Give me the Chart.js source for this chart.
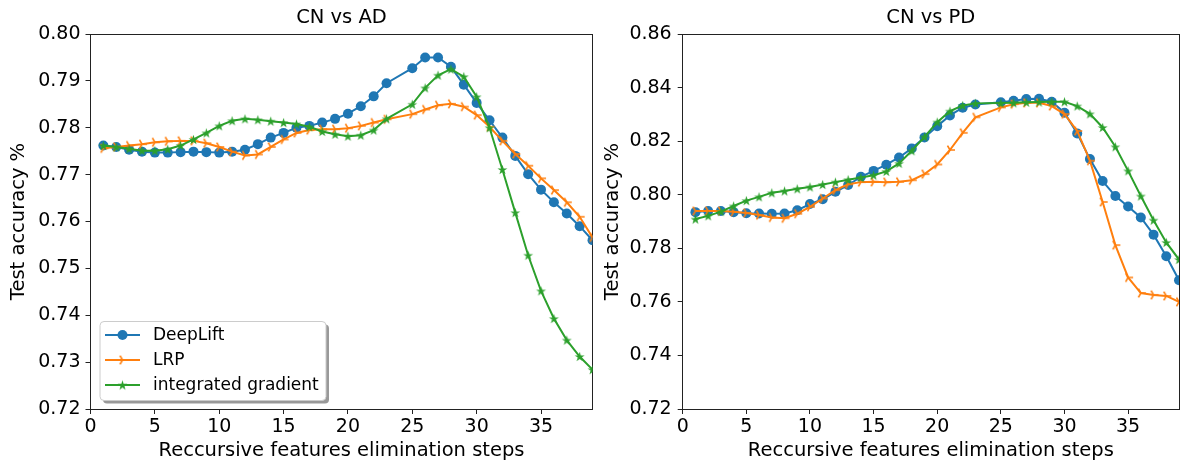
<!DOCTYPE html>
<html><head><meta charset="utf-8">
<script src="https://cdn.jsdelivr.net/npm/chart.js@4"></script>
<style>
html,body{margin:0;padding:0;background:#fff;width:1184px;height:465px;overflow:hidden}
canvas{position:absolute;top:0}
#c1{left:0;width:600px;height:465px}
#c2{left:590px;width:594px;height:465px}
</style></head><body>
<canvas id="c1" width="600" height="465"></canvas>
<canvas id="c2" width="594" height="465"></canvas>
<script>
// ---- data ----
const steps = [1,2,3,4,5,6,7,8,9,10,11,12,13,14,15,16,17,18,19,20,21,22,23,25,26,27,28,29,30,31,32,33,34,35,36,37,38,39];
const seriesNames = ['DeepLift', 'LRP', 'integrated gradient'];
const titles = ['CN vs AD', 'CN vs PD'];
const xAxisTitle = 'Reccursive features elimination steps';
const yAxisTitle = 'Test accuracy %';
const xTicks = [0,5,10,15,20,25,30,35];
const yTicksAD = [0.72,0.73,0.74,0.75,0.76,0.77,0.78,0.79,0.80];
const yTicksPD = [0.72,0.74,0.76,0.78,0.80,0.82,0.84,0.86];

const adDeepLift = [0.7762,0.7759,0.7753,0.7749,0.7747,0.7747,0.7748,0.7749,0.7748,0.7747,0.7749,0.7753,0.7765,0.7779,0.7789,0.7800,0.7804,0.7811,0.7819,0.7830,0.7846,0.7867,0.7895,0.7927,0.7950,0.7950,0.7930,0.7892,0.7853,0.7816,0.7779,0.7740,0.7701,0.7668,0.7641,0.7617,0.7590,0.7560];
const adLRP = [0.7756,0.7759,0.7762,0.7765,0.7769,0.7771,0.7772,0.7772,0.7767,0.7759,0.7749,0.7741,0.7743,0.7759,0.7775,0.7789,0.7795,0.7797,0.7797,0.7799,0.7804,0.7811,0.7818,0.7829,0.7839,0.7848,0.7851,0.7845,0.7827,0.7802,0.7772,0.7744,0.7719,0.7692,0.7667,0.7641,0.7610,0.7566];
const adIG = [0.7762,0.7759,0.7755,0.7751,0.7751,0.7754,0.7762,0.7775,0.7789,0.7804,0.7815,0.7819,0.7817,0.7814,0.7811,0.7808,0.7802,0.7792,0.7786,0.7782,0.7784,0.7795,0.7819,0.7850,0.7885,0.7912,0.7925,0.7909,0.7866,0.7800,0.7711,0.7619,0.7528,0.7452,0.7393,0.7347,0.7312,0.7284];

const pdDeepLift = [0.7935,0.7939,0.7939,0.7935,0.7931,0.7930,0.7929,0.7930,0.7942,0.7965,0.7983,0.8011,0.8036,0.8067,0.8089,0.8112,0.8139,0.8173,0.8214,0.8256,0.8296,0.8325,0.8337,0.8345,0.8351,0.8357,0.8358,0.8347,0.8306,0.8229,0.8133,0.8051,0.7995,0.7956,0.7915,0.7851,0.7770,0.7681];
const pdLRP = [0.7939,0.7939,0.7939,0.7936,0.7932,0.7924,0.7915,0.7912,0.7929,0.7955,0.7986,0.8017,0.8039,0.8047,0.8048,0.8047,0.8048,0.8054,0.8077,0.8113,0.8167,0.8231,0.8289,0.8326,0.8338,0.8343,0.8343,0.8331,0.8301,0.8238,0.8127,0.7973,0.7812,0.7691,0.7633,0.7626,0.7622,0.7600];
const pdIG = [0.7909,0.7921,0.7937,0.7958,0.7978,0.7992,0.8007,0.8014,0.8022,0.8029,0.8038,0.8047,0.8056,0.8064,0.8073,0.8087,0.8117,0.8164,0.8216,0.8271,0.8312,0.8333,0.8341,0.8342,0.8343,0.8345,0.8346,0.8347,0.8347,0.8331,0.8302,0.8251,0.8179,0.8089,0.7995,0.7905,0.7822,0.7758];

// ---- styling ----
const FONT = '"DejaVu Sans", "Liberation Sans", sans-serif';
const COLORS = ['#1f77b4', '#ff7f0e', '#2ca02c'];

function starMarker(color, r) {
  const s = Math.ceil(r * 2 + 2);
  const c = document.createElement('canvas');
  c.width = c.height = s;
  const g = c.getContext('2d');
  g.translate(s / 2, s / 2 + 0.5);
  g.beginPath();
  for (let i = 0; i < 10; i++) {
    const a = -Math.PI / 2 + i * Math.PI / 5;
    const rad = i % 2 ? r * 0.382 : r;
    const px = rad * Math.cos(a), py = rad * Math.sin(a);
    if (i === 0) g.moveTo(px, py); else g.lineTo(px, py);
  }
  g.closePath();
  g.fillStyle = color;
  g.fill();
  return c;
}
function triRightMarker(color, r) {
  const s = Math.ceil(r * 2 + 4);
  const c = document.createElement('canvas');
  c.width = c.height = s;
  const g = c.getContext('2d');
  g.translate(s / 2, s / 2);
  g.strokeStyle = color;
  g.lineWidth = 1.6;
  g.beginPath();
  g.moveTo(0, 0); g.lineTo(r, 0);
  g.moveTo(0, 0); g.lineTo(-r * 0.5, -r * 0.866);
  g.moveTo(0, 0); g.lineTo(-r * 0.5, r * 0.866);
  g.stroke();
  return c;
}
const starImg = starMarker(COLORS[2], 5.2);
const triImg = triRightMarker(COLORS[1], 5);

function makeDatasets(vals) {
  const styles = [
    { pointStyle: 'circle', pointRadius: 5, order: 2 },
    { pointStyle: triImg, pointRadius: 5, order: 1 },
    { pointStyle: starImg, pointRadius: 5, order: 0 }
  ];
  return vals.map((v, k) => ({
    label: seriesNames[k],
    data: steps.map((s, i) => ({ x: s, y: v[i] })),
    borderColor: COLORS[k],
    backgroundColor: COLORS[k],
    pointBackgroundColor: COLORS[k],
    pointBorderWidth: 0,
    borderWidth: 2,
    tension: 0,
    clip: 0,
    pointStyle: styles[k].pointStyle,
    pointRadius: styles[k].pointRadius,
    pointHoverRadius: styles[k].pointRadius,
    order: styles[k].order
  }));
}

const frameColor = '#222';

const boxLegend = {
  id: 'boxLegend',
  afterDraw(chart, args, opts) {
    if (!opts || !opts.show) return;
    const ctx = chart.ctx;
    const ca = chart.chartArea;
    const w = 226, h = 79;
    const x0 = ca.left + 9.5, y0 = ca.bottom - 8.5 - h;
    const rr = 4;
    function rrect(x, y, ww, hh) {
      ctx.beginPath();
      ctx.moveTo(x + rr, y);
      ctx.lineTo(x + ww - rr, y); ctx.quadraticCurveTo(x + ww, y, x + ww, y + rr);
      ctx.lineTo(x + ww, y + hh - rr); ctx.quadraticCurveTo(x + ww, y + hh, x + ww - rr, y + hh);
      ctx.lineTo(x + rr, y + hh); ctx.quadraticCurveTo(x, y + hh, x, y + hh - rr);
      ctx.lineTo(x, y + rr); ctx.quadraticCurveTo(x, y, x + rr, y);
      ctx.closePath();
    }
    ctx.save();
    rrect(x0 + 3, y0 + 3, w, h);
    ctx.fillStyle = 'rgba(0,0,0,0.4)';
    ctx.fill();
    rrect(x0, y0, w, h);
    ctx.fillStyle = '#fff';
    ctx.fill();
    ctx.strokeStyle = '#cccccc';
    ctx.lineWidth = 1;
    ctx.stroke();
    ctx.font = '17px ' + FONT;
    ctx.textBaseline = 'middle';
    ctx.fillStyle = '#000';
    chart.data.datasets.forEach((ds, i) => {
      const y = y0 + 13.5 + i * 25;
      ctx.strokeStyle = ds.borderColor;
      ctx.lineWidth = 2;
      ctx.beginPath();
      ctx.moveTo(x0 + 5, y); ctx.lineTo(x0 + 40, y);
      ctx.stroke();
      const cx = x0 + 22.5;
      if (ds.pointStyle === 'circle') {
        ctx.beginPath();
        ctx.arc(cx, y, 5, 0, Math.PI * 2);
        ctx.fillStyle = ds.borderColor;
        ctx.fill();
      } else {
        const img = ds.pointStyle;
        ctx.drawImage(img, cx - img.width / 2, y - img.height / 2);
      }
      ctx.fillStyle = '#000';
      ctx.fillText(ds.label, x0 + 53, y + 1);
    });
    ctx.restore();
  }
};

function build(id, title, vals, yTicks, yMin, yMax, cfg) {
  const tickFont = { family: FONT, size: 19 };
  const axisGrid = { display: true, drawOnChartArea: false, drawTicks: true, tickLength: 5, tickWidth: 1, tickColor: frameColor };
  return new Chart(document.getElementById(id), {
    type: 'line',
    data: { datasets: makeDatasets(vals) },
    plugins: [boxLegend],
    options: {
      responsive: false,
      devicePixelRatio: 1,
      animation: false,
      events: [],
      layout: { padding: { left: 0, right: cfg.padRight, top: 0, bottom: 0 } },
      plugins: {
        legend: { display: false },
        tooltip: { enabled: false },
        title: { display: false },
        boxLegend: { show: cfg.legend }
      },
      scales: {
        x: {
          type: 'linear', position: 'bottom', min: 0, max: 39,
          afterBuildTicks: s => { s.ticks = xTicks.map(v => ({ value: v })); },
          afterFit: s => { s.height = 56; },
          ticks: { font: tickFont, color: '#000', padding: 2, maxRotation: 0, autoSkip: false, callback: v => String(v) },
          grid: axisGrid,
          border: { display: true, color: frameColor, width: 1 },
          title: { display: true, text: xAxisTitle, color: '#000', font: { family: FONT, size: 19.5 }, padding: { top: 0, bottom: 2.5 } }
        },
        xTop: {
          type: 'linear', position: 'top', min: 0, max: 39,
          afterFit: s => { s.height = 34; },
          ticks: { display: false },
          grid: { display: false, drawTicks: false },
          border: { display: true, color: frameColor, width: 1 },
          title: { display: true, text: title, color: '#000', font: { family: FONT, size: 19.5 }, padding: { top: 6.4, bottom: 0 } }
        },
        y: {
          type: 'linear', position: 'left', min: yMin, max: yMax,
          afterBuildTicks: s => { s.ticks = yTicks.map(v => ({ value: v })); },
          afterFit: s => { s.width = cfg.yWidth; },
          ticks: { font: tickFont, color: '#000', padding: cfg.yPad, autoSkip: false, callback: v => v.toFixed(2) },
          grid: axisGrid,
          border: { display: true, color: frameColor, width: 1 },
          title: { display: true, text: yAxisTitle, color: '#000', font: { family: FONT, size: 19.5 }, padding: { top: cfg.yTitlePad, bottom: 0 } }
        },
        yRight: {
          type: 'linear', position: 'right', min: yMin, max: yMax,
          afterFit: s => { s.width = 0; },
          ticks: { display: false },
          grid: { display: false, drawTicks: false },
          border: { display: true, color: frameColor, width: 1 }
        }
      }
    }
  });
}

build('c1', titles[0], [adDeepLift, adLRP, adIG], yTicksAD, 0.72, 0.80,
  { padRight: 7.5, yWidth: 90.5, yPad: 5, yTitlePad: 7.5, legend: true });
build('c2', titles[1], [pdDeepLift, pdLRP, pdIG], yTicksPD, 0.72, 0.86,
  { padRight: 1, yWidth: 92.7, yPad: 6, yTitlePad: 11, legend: false });
</script>
</body></html>
